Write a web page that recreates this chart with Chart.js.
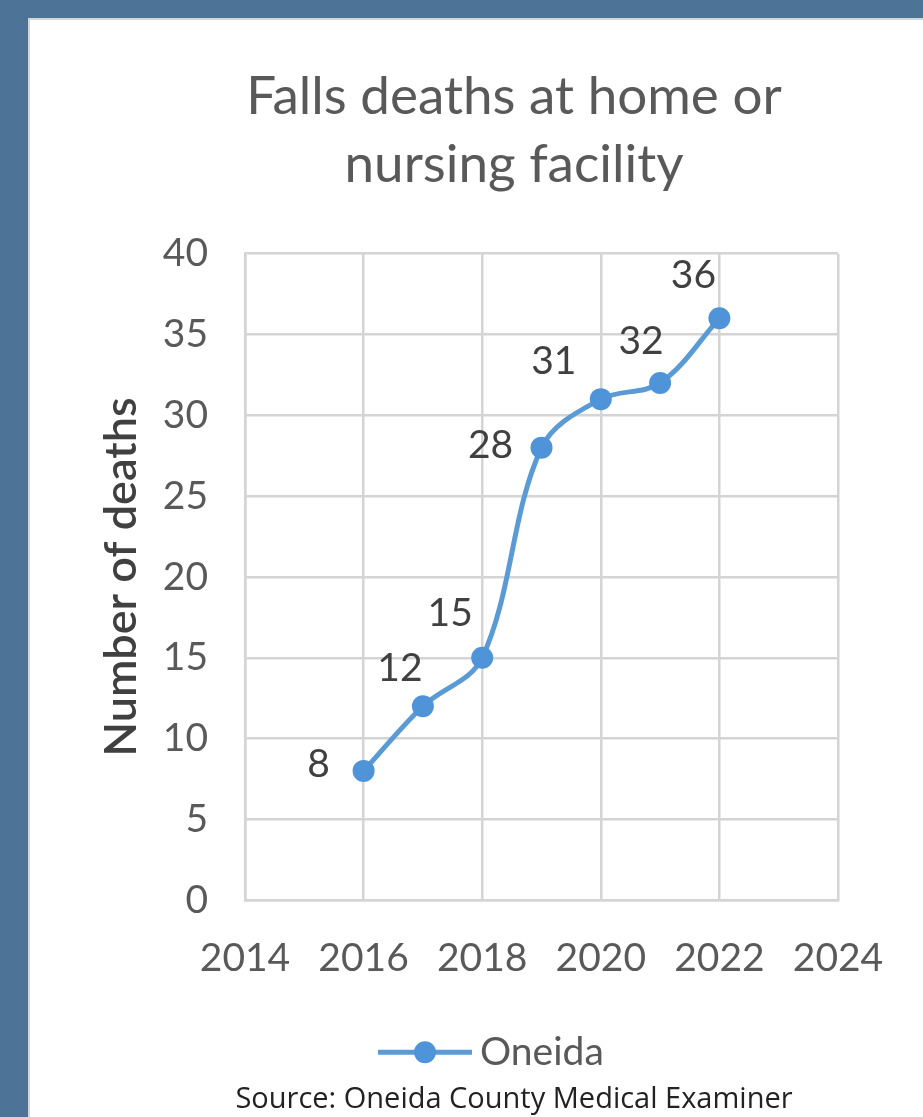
<!DOCTYPE html>
<html>
<head>
<meta charset="utf-8">
<script src="https://cdn.jsdelivr.net/npm/chart.js@4/dist/chart.umd.min.js"></script>
<style>
  html, body { margin: 0; padding: 0; }
  body { width: 923px; height: 1117px; background: #4d7396; overflow: hidden; position: relative; }
  #panel { position: absolute; left: 28px; top: 18px; width: 895px; height: 1099px; background: #ffffff; border-left: 2px solid #d6d6d6; border-top: 2px solid #d6d6d6; box-sizing: border-box; }
  #wrap { position: absolute; left: 28px; top: 18px; width: 910px; height: 1099px; }
</style>
</head>
<body>
<div id="panel"></div>
<div id="wrap"><canvas id="c"></canvas></div>
<script>
const years = [2016, 2017, 2018, 2019, 2020, 2021, 2022];
const deaths = [8, 12, 15, 28, 31, 32, 36];
const seriesName = 'Oneida';
const titleLines = ['Falls deaths at home or', 'nursing facility'];
const yAxisTitle = 'Number of deaths';
const sourceText = 'Source: Oneida County Medical Examiner';
const xMin = 2014, xMax = 2024, xStep = 2;
const yMin = 0, yMax = 40, yStep = 5;

const textColor = '#595959';
const lineColor = '#5b9bd5';
const pointColor = '#4f93d8';
const gridColor = '#d4d4d4';
const FONT = 'Lato, "Open Sans", sans-serif';

// label offsets (px) relative to each point, as placed in the reference
const labelOffsets = [[-45, -6], [-23, -38], [-32, -44], [-51, -2], [-47, -38], [-19, -42], [-26, -43]];

const labelPlugin = {
  id: 'pointLabels',
  afterDatasetsDraw(chart) {
    const ctx = chart.ctx;
    const meta = chart.getDatasetMeta(0);
    ctx.save();
    ctx.font = '39px ' + FONT;
    ctx.fillStyle = '#404040';
    ctx.textAlign = 'center';
    ctx.textBaseline = 'middle';
    meta.data.forEach((pt, i) => {
      const o = labelOffsets[i];
      ctx.fillText(String(deaths[i]), pt.x + o[0], pt.y + o[1]);
    });
    ctx.restore();
  }
};

const legendPlugin = {
  id: 'customLegend',
  afterDraw(chart) {
    const ctx = chart.ctx;
    const a = chart.chartArea;
    const cy = a.bottom + 152;
    const x0 = a.left + 133;
    ctx.save();
    ctx.strokeStyle = lineColor;
    ctx.lineWidth = 5;
    ctx.beginPath();
    ctx.moveTo(x0, cy);
    ctx.lineTo(x0 + 94, cy);
    ctx.stroke();
    ctx.fillStyle = pointColor;
    ctx.beginPath();
    ctx.arc(x0 + 47, cy, 11, 0, Math.PI * 2);
    ctx.fill();
    ctx.font = '39px ' + FONT;
    ctx.fillStyle = textColor;
    ctx.textAlign = 'left';
    ctx.textBaseline = 'middle';
    ctx.fillText(seriesName, x0 + 102, cy);
    ctx.restore();
  }
};

new Chart(document.getElementById('c'), {
  type: 'line',
  data: {
    datasets: [{
      label: seriesName,
      data: years.map((y, i) => ({ x: y, y: deaths[i] })),
      borderColor: lineColor,
      borderWidth: 5,
      backgroundColor: pointColor,
      pointBackgroundColor: pointColor,
      pointBorderColor: pointColor,
      pointBorderWidth: 0,
      pointRadius: 11,
      tension: 0.35,
      fill: false,
      yAxisID: 'y',
      xAxisID: 'x'
    }]
  },
  options: {
    responsive: true,
    maintainAspectRatio: false,
    animation: false,
    devicePixelRatio: 1,
    layout: { padding: { left: 62, right: 0, top: 45, bottom: 0 } },
    plugins: {
      legend: { display: false },
      tooltip: { enabled: false },
      title: {
        display: true,
        text: titleLines,
        color: textColor,
        font: { family: FONT, size: 53, weight: 'normal', lineHeight: 1.28 },
        padding: { top: 0, bottom: 55 }
      },
      subtitle: {
        display: true,
        position: 'bottom',
        text: sourceText,
        color: '#222222',
        font: { family: '"Open Sans", sans-serif', size: 29, weight: 'normal', lineHeight: 1.2 },
        padding: { top: 100, bottom: 0 }
      }
    },
    scales: {
      x: {
        type: 'linear',
        min: xMin, max: xMax,
        ticks: { stepSize: xStep, color: textColor, font: { family: FONT, size: 39 }, padding: 35, callback: v => String(v) },
        grid: { color: gridColor, lineWidth: 2.5, drawTicks: false },
        border: { color: gridColor, width: 2.5 },
        afterFit(scale) { scale.height = 82; }
      },
      y: {
        type: 'linear',
        min: yMin, max: yMax,
        ticks: { stepSize: yStep, color: textColor, font: { family: FONT, size: 39 }, padding: 37 },
        grid: { color: gridColor, lineWidth: 2.5, drawTicks: false },
        border: { color: gridColor, width: 2.5 },
        title: { display: true, text: yAxisTitle, color: '#404040', font: { family: FONT, size: 45, weight: '600' }, padding: { top: 4, bottom: 13 } },
        afterFit(scale) { scale.width = 155; }
      },
      yRight: {
        type: 'linear',
        position: 'right',
        display: true,
        min: yMin, max: yMax,
        ticks: { display: false },
        grid: { display: false, drawTicks: false },
        border: { display: false },
        afterFit(scale) { scale.width = 100; }
      }
    }
  },
  plugins: [labelPlugin, legendPlugin]
});
</script>
</body>
</html>
